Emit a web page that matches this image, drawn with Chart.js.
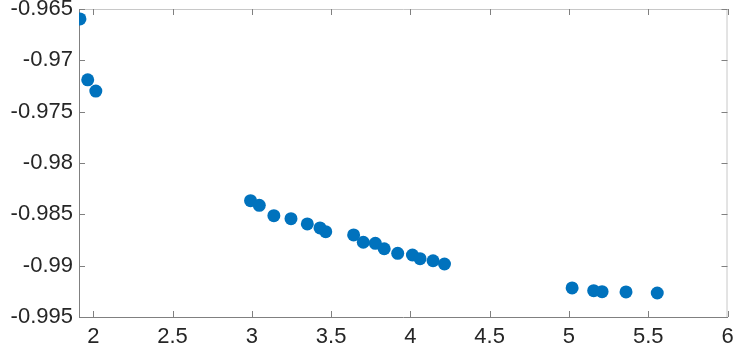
<!DOCTYPE html>
<html lang="en">
<head>
  <meta charset="UTF-8" />
  <title>Scatter</title>
  <script src="https://cdn.jsdelivr.net/npm/chart.js"></script>
  <style>
    html, body { margin: 0; padding: 0; background: #fff; }
    #wrap { width: 734px; height: 358px; }
  </style>
</head>
<body>
  <div id="wrap"><canvas id="myChart" width="734" height="358"></canvas></div>

  <script>
    // donnees
    const xValues = [1.916, 1.965, 2.016, 2.992, 3.047, 3.139, 3.247, 3.35, 3.43, 3.466,
                     3.642, 3.703, 3.779, 3.835, 3.92, 4.013, 4.061, 4.143, 4.215,
                     5.02, 5.156, 5.209, 5.36, 5.557];
    const yValues = [-0.96597, -0.9719, -0.97299, -0.98367, -0.98412, -0.98513, -0.98542, -0.98593, -0.98632, -0.98669,
                     -0.98701, -0.98772, -0.98782, -0.98835, -0.9888, -0.98896, -0.98932, -0.98952, -0.98984,
                     -0.99217, -0.99244, -0.99253, -0.99256, -0.99266];
    const xTicks = [2, 2.5, 3, 3.5, 4, 4.5, 5, 5.5, 6];
    const yTicks = [-0.995, -0.99, -0.985, -0.98, -0.975, -0.97, -0.965];

    const points = xValues.map((x, i) => ({ x: x, y: yValues[i] }));

    // cadre + graduations vers l'interieur (style matlab)
    const boxTicks = {
      id: 'boxTicks',
      afterDraw(chart) {
        const ctx = chart.ctx;
        const a = chart.chartArea;
        const sx = chart.scales.x, sy = chart.scales.y;
        ctx.save();
        ctx.lineWidth = 1;
        ctx.strokeStyle = '#c8c8c8';
        ctx.beginPath();
        ctx.moveTo(a.left, a.top + 0.5); ctx.lineTo(a.right, a.top + 0.5);
        ctx.moveTo(a.right - 0.5, a.top); ctx.lineTo(a.right - 0.5, a.bottom);
        ctx.stroke();
        ctx.strokeStyle = '#808080';
        ctx.beginPath();
        xTicks.forEach(v => {
          const p = Math.round(sx.getPixelForValue(v)) + 0.5;
          ctx.moveTo(p, a.bottom); ctx.lineTo(p, a.bottom - 6);
          ctx.moveTo(p, a.top); ctx.lineTo(p, a.top + 6);
        });
        yTicks.forEach(v => {
          const p = Math.round(sy.getPixelForValue(v)) + 0.5;
          ctx.moveTo(a.left, p); ctx.lineTo(a.left + 6, p);
          ctx.moveTo(a.right, p); ctx.lineTo(a.right - 6, p);
        });
        ctx.stroke();
        ctx.restore();
      }
    };

    const font = { family: "'Liberation Sans', Arial, sans-serif", size: 22 };

    var ctx = document.getElementById('myChart').getContext('2d');
    var myChart = new Chart(ctx, {
      type: 'scatter',
      data: {
        datasets: [{
          data: points,
          backgroundColor: '#0072BD',
          borderColor: '#0072BD',
          borderWidth: 0,
          pointRadius: 6.5
        }]
      },
      options: {
        responsive: false,
        animation: false,
        layout: { padding: { top: 9, right: 6, left: 0, bottom: 0 } },
        plugins: { legend: { display: false }, tooltip: { enabled: false } },
        scales: {
          x: {
            type: 'linear',
            min: 1.91,
            max: 6,
            afterBuildTicks: s => { s.ticks = xTicks.map(v => ({ value: v })); },
            afterFit: s => { s.height = 41; s.paddingLeft = 0; s.paddingRight = 0; },
            grid: { display: true, drawOnChartArea: false, drawTicks: false },
            border: { display: true, color: '#808080', width: 1 },
            ticks: { color: '#262626', font: font, padding: 7, maxRotation: 0,
                     callback: v => String(v) }
          },
          y: {
            min: -0.995,
            max: -0.965,
            afterBuildTicks: s => { s.ticks = yTicks.map(v => ({ value: v })); },
            afterFit: s => { s.width = 79; s.paddingTop = 0; s.paddingBottom = 0; },
            grid: { display: true, drawOnChartArea: false, drawTicks: false },
            border: { display: true, color: '#808080', width: 1 },
            ticks: { color: '#262626', font: font, padding: 6,
                     callback: v => String(Number(v.toFixed(3))) }
          }
        }
      },
      plugins: [boxTicks]
    });
  </script>
</body>
</html>
